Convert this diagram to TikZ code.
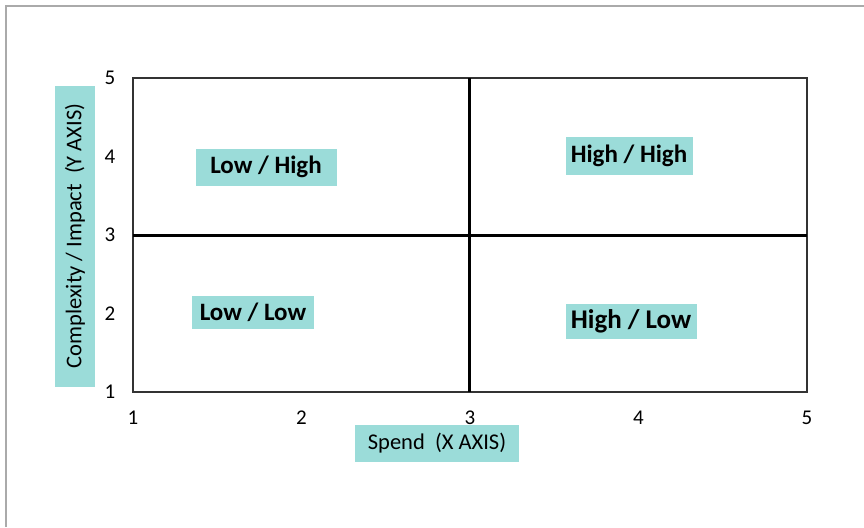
\documentclass[tikz,border=0pt]{standalone}
\usepackage{fontspec}
\setmainfont{Carlito}
\definecolor{boxteal}{RGB}{155,220,217}
\definecolor{framegray}{RGB}{170,170,170}

\begin{document}
\begin{tikzpicture}[x=1pt, y=-1pt,
        lab/.style={fill=boxteal, inner sep=0pt, font=\bfseries\fontsize{25}{25}\selectfont},
        tick/.style={font=\fontsize{21}{21}\selectfont, inner sep=0pt},
        axislab/.style={fill=boxteal, inner sep=0pt, font=\fontsize{22.5}{22.5}\selectfont}
    ]

    \def\xl{133}
    \def\xr{807}
    \def\yt{78}
    \def\yb{392}

    \useasboundingbox (0,0) rectangle (864,527);
    \draw[framegray, line width=1.2pt] (6,527) -- (6,6) -- (864,6);

    % plot frame
    \draw[black!80, line width=1.4pt] (\xl,\yt) rectangle (\xr,\yb);
    \draw[line width=3pt] (469,\yt) -- (469,\yb);
    \draw[line width=3pt] (\xl,235) -- (\xr,235);

    % tick labels
    \foreach \v in {1,...,5}{
        \pgfmathsetmacro\px{\xl+(\v-1)*(\xr-\xl)/4}
        \pgfmathsetmacro\py{\yb-(\v-1)*(\yb-\yt)/4}
        \node[tick] (xt\v) at (\px,418) {\v};
        \node[tick] (yt\v) at (110,\py) {\v};
    }

    % quadrant labels
    \node[lab, minimum width=141pt, minimum height=37pt] (lowhigh) at (266,167) {Low / High};
    \node[lab, minimum width=127pt, minimum height=38pt] (highhigh) at (629,156) {High / High};
    \node[lab, minimum width=122pt, minimum height=33pt] (lowlow) at (253,312) {Low / Low};
    \node[lab, minimum width=131pt, minimum height=35pt, font=\bfseries\fontsize{27}{27}\selectfont] (highlow) at (631,321) {High / Low};

    % axis titles
    \node[axislab, minimum width=164pt, minimum height=37pt] (xaxis) at (437,443) {Spend\ \ (X AXIS)};
    \node[axislab, rotate=90, minimum width=301pt, minimum height=40pt] (yaxis) at (75,236) {Complexity / Impact\ \ (Y AXIS)};
\end{tikzpicture}
\end{document}
